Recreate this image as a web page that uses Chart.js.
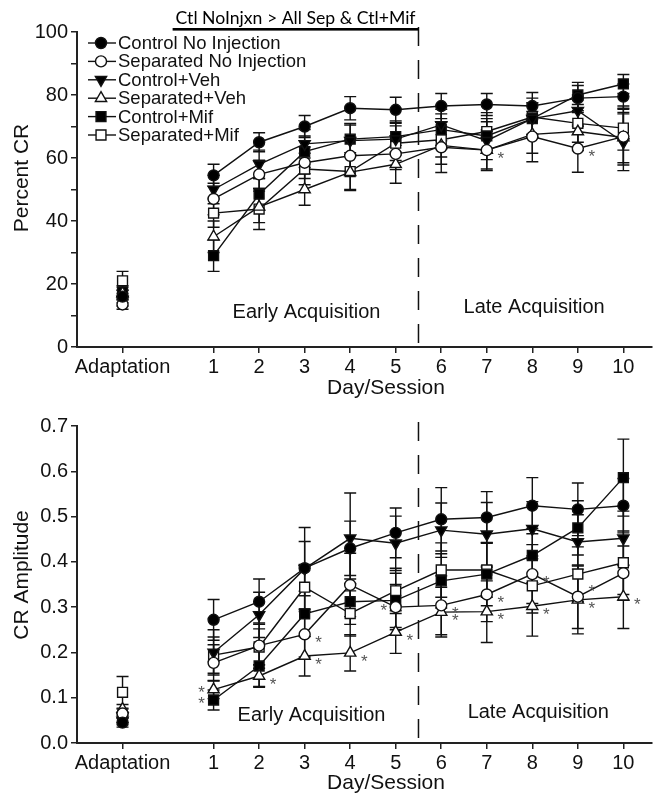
<!DOCTYPE html>
<html>
<head>
<meta charset="utf-8">
<script src="https://cdn.jsdelivr.net/npm/chart.js@4.4.1/dist/chart.umd.min.js"></script>
<style>
  body { margin: 0; background: #fff; }
  canvas { display: block; }
</style>
</head>
<body>
<canvas id="pctChart" width="660" height="400"></canvas>
<canvas id="ampChart" width="660" height="395"></canvas>
<script>
// ---- data ----
// first value of every series is the Adaptation session, then days 1..10
const sessions = ['Adaptation', '1', '2', '3', '4', '5', '6', '7', '8', '9', '10'];
const xTickValues = [-1, 1, 2, 3, 4, 5, 6, 7, 8, 9, 10];
const seriesNames = ['Control No Injection', 'Separated No Injection', 'Control+Veh',
                     'Separated+Veh', 'Control+Mif', 'Separated+Mif'];

// Percent CR
const cniPct = [16, 54.5, 65, 70, 75.8, 75.3, 76.5, 77, 76.5, 79, 79.5];
const sniPct = [13.5, 47, 54.8, 58.5, 60.7, 61.3, 63.4, 62.5, 66.8, 63, 66.8];
const cvPct  = [15, 50, 58, 64.5, 65.5, 66, 70.5, 65.5, 72.5, 75, 65];
const svPct  = [17, 35, 44.5, 50, 55.5, 58, 64, 62.5, 67.5, 68.4, 66.5];
const cmPct  = [17.5, 29, 48.5, 62, 66, 66.8, 69, 67, 72.5, 80, 83.5];
const smPct  = [21, 42.5, 43.8, 56.5, 55.7, 64.7, 65.8, 68.4, 73, 71, 69.5];

const cniPctErr = [2, 3.5, 3, 3.5, 3.7, 4, 4, 3.5, 4.3, 4, 4];
const sniPctErr = [1.5, 5, 4.5, 5, 5, 5, 8, 6, 8, 7.5, 9];
const cvPctErr  = [2, 4.5, 4.5, 4.5, 5, 5, 5, 6, 5, 5, 9];
const svPctErr  = [2, 5, 5, 5, 5.5, 6, 6, 6.5, 6, 6, 8];
const cmPctErr  = [2, 5, 5, 5, 5, 5, 5, 5.5, 5, 4, 3];
const smPctErr  = [3, 4.5, 6.5, 5, 6, 5.5, 5.5, 6, 6, 6, 7];

// CR Amplitude
const cniAmp = [0.045, 0.272, 0.312, 0.386, 0.43, 0.464, 0.494, 0.498, 0.524, 0.516, 0.524];
const sniAmp = [0.065, 0.177, 0.215, 0.24, 0.349, 0.30, 0.304, 0.328, 0.373, 0.323, 0.375];
const cvAmp  = [0.05, 0.20, 0.283, 0.385, 0.452, 0.441, 0.47, 0.461, 0.473, 0.444, 0.452];
const svAmp  = [0.075, 0.118, 0.148, 0.192, 0.199, 0.245, 0.289, 0.29, 0.302, 0.316, 0.323];
const cmAmp  = [0.055, 0.095, 0.17, 0.285, 0.312, 0.315, 0.358, 0.373, 0.414, 0.475, 0.586];
const smAmp  = [0.112, 0.194, 0.212, 0.344, 0.286, 0.336, 0.382, 0.382, 0.347, 0.373, 0.398];

const cniAmpErr = [0.01, 0.045, 0.05, 0.09, 0.06, 0.055, 0.07, 0.057, 0.062, 0.058, 0.06];
const sniAmpErr = [0.01, 0.04, 0.05, 0.05, 0.07, 0.05, 0.065, 0.06, 0.065, 0.07, 0.06];
const cvAmpErr  = [0.01, 0.05, 0.05, 0.06, 0.1, 0.06, 0.06, 0.07, 0.06, 0.06, 0.06];
const svAmpErr  = [0.01, 0.02, 0.025, 0.044, 0.04, 0.047, 0.055, 0.068, 0.066, 0.075, 0.07];
const cmAmpErr  = [0.01, 0.022, 0.045, 0.05, 0.05, 0.06, 0.06, 0.07, 0.06, 0.06, 0.085];
const smAmpErr  = [0.035, 0.04, 0.04, 0.05, 0.05, 0.05, 0.06, 0.06, 0.06, 0.06, 0.07];

// significance stars: series index, day, side of the marker
const pctStars = [[3, 7, 'r'], [1, 9, 'r']];
const ampStars = [[3, 1, 'l'], [4, 1, 'l'], [3, 2, 'r'], [1, 3, 'r'], [3, 3, 'r'], [3, 4, 'r'],
                  [1, 5, 'l'], [3, 5, 'r'], [1, 6, 'r'], [3, 6, 'r'], [1, 7, 'r'], [3, 7, 'r'],
                  [1, 8, 'r'], [3, 8, 'r'], [1, 9, 'u'], [3, 9, 'r'], [3, 10, 'r']];

// ---- styles ----
const FONT = '"Liberation Sans", Arial, Helvetica, sans-serif';
const INK = '#111';
const markers = [
  { style: 'circle',   fill: '#000', r: 5.5, rot: 0 },
  { style: 'circle',   fill: '#fff', r: 5.5, rot: 0 },
  { style: 'triangle', fill: '#000', r: 6.5, rot: 180 },
  { style: 'triangle', fill: '#fff', r: 6.5, rot: 0 },
  { style: 'rect',     fill: '#000', r: 7,   rot: 0 },
  { style: 'rect',     fill: '#fff', r: 7,   rot: 0 }
];

function makePoints(vals, errs) {
  const pts = [{ x: -1, y: vals[0], err: errs[0] }, { x: 0, y: null, err: 0 }];
  for (let i = 1; i < vals.length; i++) pts.push({ x: i, y: vals[i], err: errs[i] });
  return pts;
}

function buildDatasets(valueSets, errSets) {
  return seriesNames.map((name, i) => ({
    label: name,
    data: makePoints(valueSets[i], errSets[i]),
    borderColor: INK,
    borderWidth: 1.4,
    backgroundColor: markers[i].fill,
    pointBackgroundColor: markers[i].fill,
    pointBorderColor: INK,
    pointBorderWidth: 1.4,
    pointStyle: markers[i].style,
    pointRadius: markers[i].r,
    pointRotation: markers[i].rot,
    tension: 0,
    fill: false
  }));
}

const overlay = {
  id: 'overlay',
  beforeDatasetsDraw(chart, args, o) {
    const ctx = chart.ctx, xs = chart.scales.x, ys = chart.scales.y;
    ctx.save();
    ctx.strokeStyle = INK;
    ctx.lineWidth = 1.4;
    chart.data.datasets.forEach(ds => {
      ds.data.forEach(p => {
        if (p.y == null) return;
        const x = xs.getPixelForValue(p.x);
        const y1 = ys.getPixelForValue(p.y - p.err), y2 = ys.getPixelForValue(p.y + p.err);
        ctx.beginPath();
        ctx.moveTo(x, y1); ctx.lineTo(x, y2);
        ctx.moveTo(x - 6, y1); ctx.lineTo(x + 6, y1);
        ctx.moveTo(x - 6, y2); ctx.lineTo(x + 6, y2);
        ctx.stroke();
      });
    });
    // dashed split between early and late acquisition
    const dx = xs.getPixelForValue(5.5);
    ctx.setLineDash([19, 14]);
    ctx.lineWidth = 1.5;
    ctx.beginPath();
    ctx.moveTo(dx, chart.chartArea.top + o.dashTop);
    ctx.lineTo(dx, chart.chartArea.bottom);
    ctx.stroke();
    ctx.restore();
  },
  afterDraw(chart, args, o) {
    const ctx = chart.ctx, xs = chart.scales.x, ys = chart.scales.y, ca = chart.chartArea;
    ctx.save();
    ctx.fillStyle = INK;
    ctx.textAlign = 'center';
    ctx.textBaseline = 'middle';
    ctx.font = '20px ' + FONT;
    o.phases.forEach(t => ctx.fillText(t.text, xs.getPixelForValue(t.x), ys.getPixelForValue(t.y)));

    // axis titles
    ctx.font = '21px ' + FONT;
    ctx.fillText('Day/Session', 386, o.xTitleY);
    ctx.save();
    ctx.translate(22, o.yTitleY);
    ctx.rotate(-Math.PI / 2);
    ctx.fillText(o.yTitle, 0, 0);
    ctx.restore();

    // stars
    ctx.fillStyle = '#555';
    ctx.font = '17px ' + FONT;
    const ds = chart.data.datasets;
    o.stars.forEach(([s, d, side]) => {
      const p = ds[s].data[d + 1];
      const x = xs.getPixelForValue(p.x), y = ys.getPixelForValue(p.y);
      if (side === 'r') ctx.fillText('*', x + 14, y + 9);
      else if (side === 'l') ctx.fillText('*', x - 12, y + 4);
      else ctx.fillText('*', x + 14, y - 4);
    });

    // legend
    if (o.legend) {
      ctx.font = '18.5px ' + FONT;
      ctx.textAlign = 'left';
      seriesNames.forEach((name, i) => {
        const y = 43 + i * 18.4;
        ctx.strokeStyle = INK;
        ctx.lineWidth = 1.4;
        ctx.beginPath(); ctx.moveTo(88, y); ctx.lineTo(116, y); ctx.stroke();
        ctx.fillStyle = markers[i].fill;
        Chart.helpers.drawPoint(ctx, { pointStyle: markers[i].style, rotation: markers[i].rot,
          radius: markers[i].r, borderWidth: 1.4 }, 101, y);
        ctx.fillStyle = INK;
        ctx.fillText(name, 118, y + 1);
      });
    }

    // comparison bar above top chart
    if (o.banner) {
      const x1 = xs.getPixelForValue(0.1), x2 = xs.getPixelForValue(5.5);
      ctx.fillStyle = '#000';
      ctx.fillRect(x1, ca.top - 4, x2 - x1, 2.6);
      ctx.font = '18px Lato, "Open Sans", sans-serif';
      ctx.textAlign = 'center';
      const w = ctx.measureText(o.banner).width;
      const target = 240;
      ctx.translate((x1 + x2) / 2, 18);
      ctx.scale(Math.min(1, target / w), 1);
      ctx.fillText(o.banner, 0, 0);
    }
    ctx.restore();
  }
};

function scales(yMin, yMax, yStep, yLabel, xHeight) {
  return {
    x: {
      type: 'linear', min: -2, max: 10.62,
      afterBuildTicks: s => { s.ticks = xTickValues.map(v => ({ value: v })); },
      afterFit: s => { s.height = xHeight; },
      grid: { drawOnChartArea: false, drawTicks: true, tickLength: 6, color: '#222', lineWidth: 1.5 },
      border: { display: true, color: '#222', width: 2 },
      ticks: { color: INK, font: { family: FONT, size: 20 }, padding: 2, maxRotation: 0, autoSkip: false,
               callback: v => sessions[xTickValues.indexOf(v)] }
    },
    y: {
      type: 'linear', min: yMin, max: yMax,
      afterFit: s => { s.width = 77; },
      grid: { drawOnChartArea: false, drawTicks: true, tickLength: 6, color: '#222', lineWidth: 1.5 },
      border: { display: true, color: '#222', width: 2 },
      ticks: { color: INK, font: { family: FONT, size: 20 }, padding: 3, stepSize: yStep, autoSkip: false,
               callback: yLabel }
    }
  };
}

const pctChart = new Chart(document.getElementById('pctChart'), {
  type: 'line',
  data: { datasets: buildDatasets([cniPct, sniPct, cvPct, svPct, cmPct, smPct],
                                  [cniPctErr, sniPctErr, cvPctErr, svPctErr, cmPctErr, smPctErr]) },
  options: {
    responsive: false, animation: false,
    layout: { padding: { top: 32, right: 0, left: 0, bottom: 0 } },
    scales: scales(0, 100, 10, v => (v % 20 === 0 ? String(v) : ''), 53),
    plugins: {
      legend: { display: false }, tooltip: { enabled: false },
      overlay: {
        dashTop: -5, xTitleY: 388, yTitleY: 178, yTitle: 'Percent CR', legend: true,
        banner: 'Ctl NoInjxn > All Sep & Ctl+Mif', stars: pctStars,
        phases: [{ text: 'Early Acquisition', x: 3.04, y: 10.8 }, { text: 'Late Acquisition', x: 8.04, y: 12.7 }]
      }
    }
  },
  plugins: [overlay]
});

const ampChart = new Chart(document.getElementById('ampChart'), {
  type: 'line',
  data: { datasets: buildDatasets([cniAmp, sniAmp, cvAmp, svAmp, cmAmp, smAmp],
                                  [cniAmpErr, sniAmpErr, cvAmpErr, svAmpErr, cmAmpErr, smAmpErr]) },
  options: {
    responsive: false, animation: false,
    layout: { padding: { top: 26, right: 0, left: 0, bottom: 0 } },
    scales: scales(0, 0.7, 0.1, v => v.toFixed(1), 52),
    plugins: {
      legend: { display: false }, tooltip: { enabled: false },
      overlay: {
        dashTop: -4, xTitleY: 383, yTitleY: 175, yTitle: 'CR Amplitude', legend: false,
        banner: null, stars: ampStars,
        phases: [{ text: 'Early Acquisition', x: 3.15, y: 0.06 }, { text: 'Late Acquisition', x: 8.13, y: 0.068 }]
      }
    }
  },
  plugins: [overlay]
});
</script>
</body>
</html>
